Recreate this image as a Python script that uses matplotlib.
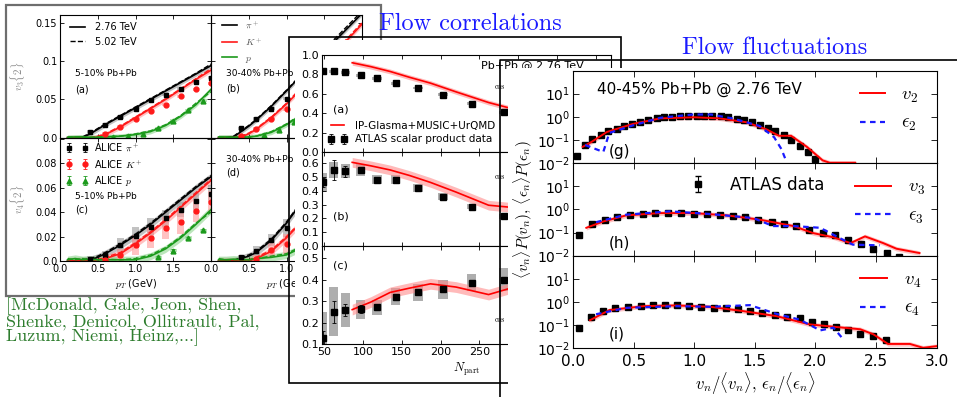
import numpy as np
import matplotlib
matplotlib.use("Agg")
import matplotlib.pyplot as plt
from matplotlib.patches import Rectangle
from matplotlib.lines import Line2D
from matplotlib.ticker import NullLocator

plt.rcParams["mathtext.fontset"] = "cm"
plt.rcParams["font.family"] = "DejaVu Sans"

# ---------------- left block: v3{2}, v4{2} vs pT ----------------
pt_model = [0.1, 0.2, 0.3, 0.4, 0.5, 0.6, 0.8, 1.0, 1.2, 1.4, 1.6, 1.8, 2.0]

v3_510_pi = [0.0, 0.0, 0.0005, 0.005, 0.011, 0.017, 0.028, 0.039, 0.050, 0.061, 0.072, 0.083, 0.094]
v3_510_k = [0.0, 0.0, 0.0, 0.0, 0.001, 0.004, 0.014, 0.026, 0.038, 0.050, 0.063, 0.076, 0.088]
v3_510_p = [0.0005, 0.001, 0.001, 0.0005, 0.0005, 0.001, 0.002, 0.004, 0.008, 0.016, 0.028, 0.043, 0.063]
v3_510_pi_502 = [0.0, 0.0, 0.001, 0.006, 0.012, 0.018, 0.029, 0.040, 0.051, 0.062, 0.073, 0.084, 0.096]
v3_510_k_502 = [0.0, 0.0, 0.0, 0.0, 0.002, 0.005, 0.015, 0.027, 0.039, 0.051, 0.064, 0.077, 0.090]
v3_510_p_502 = [0.001, 0.001, 0.0005, 0.0005, 0.001, 0.001, 0.002, 0.005, 0.009, 0.017, 0.029, 0.045, 0.060]

v3_3040_pi = [0.0, 0.0, 0.001, 0.008, 0.015, 0.023, 0.041, 0.061, 0.082, 0.102, 0.122, 0.142, 0.162]
v3_3040_k = [0.0, 0.0, 0.0, 0.001, 0.005, 0.011, 0.026, 0.044, 0.064, 0.085, 0.106, 0.127, 0.148]
v3_3040_p = [0.001, 0.001, 0.0005, 0.0005, 0.001, 0.002, 0.007, 0.017, 0.030, 0.045, 0.062, 0.080, 0.100]
v3_3040_pi_502 = [0.0, 0.0, 0.002, 0.009, 0.016, 0.024, 0.042, 0.062, 0.083, 0.104, 0.125, 0.145, 0.165]
v3_3040_k_502 = [0.0, 0.0, 0.0, 0.002, 0.006, 0.012, 0.027, 0.045, 0.066, 0.087, 0.108, 0.129, 0.150]
v3_3040_p_502 = [0.001, 0.0005, 0.0005, 0.001, 0.001, 0.002, 0.008, 0.018, 0.031, 0.046, 0.063, 0.082, 0.102]

v4_510_pi = [0.0, 0.0, 0.0005, 0.001, 0.003, 0.006, 0.013, 0.021, 0.030, 0.040, 0.050, 0.060, 0.069]
v4_510_k = [0.0, 0.0, 0.0, 0.0, 0.001, 0.002, 0.006, 0.014, 0.023, 0.033, 0.044, 0.055, 0.066]
v4_510_p = [0.001, 0.002, 0.001, 0.0015, 0.001, 0.001, 0.001, 0.001, 0.004, 0.010, 0.019, 0.030, 0.042]
v4_510_pi_502 = [0.0, 0.0, 0.001, 0.002, 0.004, 0.007, 0.014, 0.022, 0.031, 0.041, 0.051, 0.061, 0.070]
v4_510_k_502 = [0.0, 0.0, 0.0, 0.0, 0.001, 0.003, 0.007, 0.015, 0.024, 0.034, 0.045, 0.056, 0.067]
v4_510_p_502 = [0.002, 0.001, 0.002, 0.001, 0.001, 0.0015, 0.001, 0.002, 0.005, 0.011, 0.020, 0.031, 0.040]

v4_3040_pi = [0.0, 0.0, 0.0, 0.002, 0.004, 0.007, 0.017, 0.031, 0.048, 0.066, 0.085, 0.104, 0.123]
v4_3040_k = [0.0, 0.0, 0.0, 0.0, 0.0, 0.002, 0.008, 0.019, 0.032, 0.047, 0.063, 0.080, 0.098]
v4_3040_p = [0.001, 0.001, 0.0015, 0.001, 0.001, 0.002, 0.003, 0.005, 0.011, 0.020, 0.030, 0.040, 0.050]
v4_3040_pi_502 = [0.0, 0.0, 0.0005, 0.003, 0.005, 0.008, 0.018, 0.032, 0.049, 0.067, 0.086, 0.105, 0.124]
v4_3040_k_502 = [0.0, 0.0, 0.0, 0.0, 0.001, 0.003, 0.009, 0.020, 0.033, 0.048, 0.064, 0.081, 0.099]
v4_3040_p_502 = [0.002, 0.001, 0.001, 0.0015, 0.001, 0.002, 0.004, 0.006, 0.012, 0.021, 0.031, 0.041, 0.051]

# ALICE points
pt_pi_510 = [0.4, 0.6, 0.8, 1.0, 1.2, 1.4, 1.6, 1.8, 2.0]
pt_k_510 = [0.6, 0.8, 1.0, 1.2, 1.4, 1.6, 1.8, 2.0]
pt_p_510 = [0.7, 0.9, 1.1, 1.3, 1.5, 1.7, 1.9]
v3_510_pi_data = [0.0075, 0.017, 0.027, 0.037, 0.049, 0.056, 0.064, 0.073, 0.078]
v3_510_k_data = [0.005, 0.014, 0.025, 0.035, 0.043, 0.054, 0.063, 0.071]
v3_510_p_data = [0.001, 0.002, 0.005, 0.012, 0.022, 0.036, 0.048]
v3_510_pi_sys = [0.002, 0.002, 0.002, 0.002, 0.002, 0.002, 0.002, 0.002, 0.002]
v3_510_k_sys = [0.002, 0.002, 0.002, 0.002, 0.002, 0.002, 0.002, 0.002]
v3_510_p_sys = [0.002, 0.002, 0.002, 0.002, 0.002, 0.002, 0.002]

pt_pi_3040 = [0.4, 0.6, 0.8, 1.0]
pt_k_3040 = [0.4, 0.6, 0.8, 1.0]
pt_p_3040 = [0.5, 0.7, 0.9, 1.1]
v3_3040_pi_data = [0.012, 0.025, 0.038, 0.051]
v3_3040_k_data = [0.002, 0.0115, 0.025, 0.037]
v3_3040_p_data = [0.0, 0.003, 0.010, 0.021]
v3_3040_sys = [0.002, 0.002, 0.002, 0.002]

pt_p_510_v4 = [1.3, 1.5, 1.7, 1.9]
v4_510_pi_data = [0.002, 0.005, 0.013, 0.0205, 0.028, 0.035, 0.042, 0.049, 0.055]
v4_510_pi_sys = [0.002, 0.003, 0.0055, 0.007, 0.007, 0.007, 0.006, 0.007, 0.007]
v4_510_pi_err = [0.001, 0.001, 0.001, 0.001, 0.001, 0.001, 0.001, 0.001, 0.001]
v4_510_k_data = [0.001, 0.005, 0.013, 0.019, 0.027, 0.032, 0.041, 0.048]
v4_510_k_sys = [0.002, 0.005, 0.008, 0.008, 0.009, 0.0095, 0.009, 0.009]
v4_510_k_err = [0.0015, 0.0015, 0.0015, 0.0015, 0.0015, 0.0015, 0.0015, 0.0015]
v4_510_p_data = [0.003, 0.0085, 0.019, 0.025]
v4_510_p_sys = [0.001, 0.001, 0.0015, 0.0015]
v4_510_p_err = [0.001, 0.001, 0.001, 0.001]

pt_pi_3040_v4 = [0.4, 0.6, 0.8, 1.0]
pt_k_3040_v4 = [0.6, 0.8, 1.0]
v4_3040_pi_data = [0.003, 0.008, 0.0175, 0.027]
v4_3040_pi_sys = [0.002, 0.004, 0.005, 0.007]
v4_3040_k_data = [0.002, 0.009, 0.014]
v4_3040_k_sys = [0.003, 0.006, 0.008]

v3_ticks = [0.0, 0.05, 0.1, 0.15]
v3_ticklabels = ["0.0", "0.05", "0.1", "0.15"]
v4_ticks = [0.0, 0.02, 0.04, 0.06, 0.08, 0.10]
v4_ticklabels = ["0.0", "0.02", "0.04", "0.06", "0.08", ""]
pt_ticks = [0.0, 0.5, 1.0, 1.5, 2.0]
pt_ticklabels_left = ["0.0", "0.5", "1.0", "1.5", ""]
pt_ticklabels_right = ["0.0", "0.5", "1.0", "1.5", "2.0"]

# ---------------- middle block: flow correlations vs Npart ----------------
npart = [48, 62, 77, 97, 118, 142, 171, 203, 240, 282]
corr_a = [0.83, 0.83, 0.82, 0.79, 0.76, 0.71, 0.66, 0.59, 0.50, 0.41]
corr_a_sys = [0.015, 0.015, 0.015, 0.015, 0.015, 0.015, 0.015, 0.015, 0.015, 0.015]
corr_a_err = [0.01, 0.01, 0.01, 0.01, 0.01, 0.01, 0.01, 0.01, 0.01, 0.01]
corr_b = [0.46, 0.55, 0.54, 0.55, 0.48, 0.48, 0.42, 0.355, 0.285, 0.215]
corr_b_sys = [0.07, 0.06, 0.05, 0.04, 0.035, 0.035, 0.03, 0.025, 0.02, 0.02]
corr_b_err = [0.03, 0.07, 0.04, 0.02, 0.01, 0.01, 0.01, 0.01, 0.01, 0.01]
corr_c = [0.13, 0.25, 0.258, 0.262, 0.27, 0.32, 0.34, 0.354, 0.385, 0.40]
corr_c_sys = [0.12, 0.115, 0.08, 0.045, 0.035, 0.04, 0.04, 0.045, 0.04, 0.055]
corr_c_err = [0.03, 0.05, 0.03, 0.02, 0.01, 0.01, 0.01, 0.01, 0.01, 0.01]

npart_model = [86, 110, 135, 160, 187, 220, 262, 300]
corr_a_model = [0.92, 0.88, 0.83, 0.77, 0.71, 0.62, 0.51, 0.43]
corr_b_model = [0.605, 0.58, 0.55, 0.51, 0.46, 0.39, 0.295, 0.275]
corr_c_model = [0.26, 0.295, 0.34, 0.36, 0.38, 0.365, 0.33, 0.37]

npart_ticks = [50, 100, 150, 200, 250, 300, 350, 400]
npart_ticklabels = ["50", "100", "150", "200", "250", "300", "350", "400"]
corr_a_ticks = [0.0, 0.2, 0.4, 0.6, 0.8, 1.0]
corr_a_ticklabels = ["0.0", "0.2", "0.4", "0.6", "0.8", "1.0"]
corr_b_ticks = [0.0, 0.1, 0.2, 0.3, 0.4, 0.5, 0.6]
corr_b_ticklabels = ["0.0", "0.1", "0.2", "0.3", "0.4", "0.5", "0.6"]
corr_c_ticks = [0.1, 0.2, 0.3, 0.4, 0.5]
corr_c_ticklabels = ["0.1", "0.2", "0.3", "0.4", "0.5"]

# ---------------- right block: flow fluctuations ----------------
g_x = [0.03, 0.10, 0.16, 0.23, 0.29, 0.36, 0.42, 0.49, 0.55, 0.62, 0.69, 0.75, 0.82, 0.88, 0.95, 1.02,
       1.08, 1.15, 1.22, 1.28, 1.35, 1.41, 1.48, 1.54, 1.61, 1.67, 1.74, 1.80, 1.87, 1.94, 2.00]
g_y = [0.02, 0.063, 0.107, 0.17, 0.25, 0.31, 0.40, 0.51, 0.60, 0.72, 0.85, 0.93, 1.0, 1.07, 1.1, 1.1,
       1.1, 1.1, 1.03, 0.93, 0.84, 0.72, 0.60, 0.46, 0.34, 0.25, 0.16, 0.097, 0.055, 0.030, 0.015]
g_vx = [0.08, 0.15, 0.28, 0.5, 0.72, 1.0, 1.21, 1.43, 1.6, 1.7, 1.8, 1.93, 2.06, 2.12, 2.33]
g_vy = [0.05, 0.08, 0.22, 0.5, 0.85, 0.95, 0.85, 0.58, 0.28, 0.15, 0.15, 0.05, 0.013, 0.0102, 0.0102]
g_ex = [0.10, 0.25, 0.30, 0.5, 0.72, 0.99, 1.14, 1.32, 1.54, 1.66, 1.72, 1.76]
g_ey = [0.06, 0.03, 0.2, 0.43, 0.9, 1.25, 1.25, 0.84, 0.4, 0.13, 0.04, 0.012]

h_x = [0.05, 0.16, 0.26, 0.36, 0.47, 0.58, 0.68, 0.78, 0.89, 1.00, 1.11, 1.21, 1.32, 1.42, 1.53, 1.64,
       1.74, 1.84, 1.95, 2.06, 2.16, 2.27, 2.38, 2.48, 2.59, 2.69]
h_y = [0.076, 0.23, 0.36, 0.47, 0.59, 0.63, 0.69, 0.69, 0.69, 0.65, 0.63, 0.59, 0.53, 0.45, 0.36, 0.28,
       0.23, 0.19, 0.13, 0.10, 0.076, 0.046, 0.033, 0.019, 0.013, 0.009]
h_vx = [0.11, 0.25, 0.44, 0.72, 0.99, 1.27, 1.54, 1.82, 1.98, 2.15, 2.29, 2.41, 2.56, 2.67, 2.86]
h_vy = [0.16, 0.30, 0.55, 0.69, 0.69, 0.55, 0.36, 0.19, 0.095, 0.062, 0.035, 0.068, 0.035, 0.02, 0.013]
h_ex = [0.19, 0.44, 0.8, 1.13, 1.49, 1.65, 1.82, 2.04, 2.2, 2.31, 2.53]
h_ey = [0.28, 0.59, 0.82, 0.63, 0.42, 0.19, 0.19, 0.16, 0.058, 0.03, 0.028]

i_x = [0.05, 0.15, 0.25, 0.35, 0.45, 0.56, 0.66, 0.76, 0.86, 0.96, 1.06, 1.16, 1.26, 1.36, 1.46, 1.56,
       1.67, 1.77, 1.87, 1.97, 2.07, 2.17, 2.27, 2.37, 2.48, 2.58]
i_y = [0.076, 0.22, 0.40, 0.52, 0.59, 0.65, 0.70, 0.72, 0.70, 0.65, 0.61, 0.55, 0.52, 0.47, 0.40, 0.32,
       0.27, 0.22, 0.19, 0.137, 0.106, 0.084, 0.058, 0.042, 0.033, 0.022]
i_vx = [0.14, 0.30, 0.58, 0.85, 1.13, 1.40, 1.68, 1.95, 2.23, 2.37, 2.48, 2.6, 2.78, 2.89, 3.0]
i_vy = [0.16, 0.44, 0.65, 0.70, 0.61, 0.40, 0.24, 0.106, 0.076, 0.065, 0.039, 0.015, 0.015, 0.0102, 0.012]
i_ex = [0.19, 0.44, 0.85, 1.13, 1.46, 1.68, 1.87, 2.04, 2.15, 2.23]
i_ey = [0.29, 0.55, 0.65, 0.61, 0.72, 0.30, 0.17, 0.058, 0.076, 0.024]

ratio_ticks = [0.0, 0.5, 1.0, 1.5, 2.0, 2.5, 3.0]
ratio_ticklabels = ["0.0", "0.5", "1.0", "1.5", "2.0", "2.5", "3.0"]
prob_ticks = [0.01, 0.1, 1.0, 10.0]

W, H = 957.0, 397.0


def box(x0, y0, x1, y1):
    # pixel box measured from the top-left corner -> figure fraction rect
    return [x0 / W, 1 - y1 / H, (x1 - x0) / W, (y1 - y0) / H]


def classic(ax, size, length=3):
    ax.tick_params(direction="in", top=True, right=True, labelsize=size,
                   length=length, width=0.6, pad=2)
    for s in ax.spines.values():
        s.set_linewidth(0.8)


fig = plt.figure(figsize=(9.57, 3.97), dpi=100)

BLK, RED, GRN = "#000000", "#ff1a1a", "#1c9a1c"
BLK_B, RED_B, GRN_B = "#9a9a9a", "#ff9a9a", "#8fd68f"

# ================= left block =================
fig.add_artist(Rectangle((6 / W, 1 - 296 / H), 375 / W, 291 / H, transform=fig.transFigure,
                         fill=False, edgecolor="#6e6e6e", lw=1.6, zorder=1))

ax_a = fig.add_axes(box(60, 15, 211, 137.7))
ax_b = fig.add_axes(box(211, 15, 362, 137.7))
ax_c = fig.add_axes(box(60, 137.7, 211, 261))
ax_d = fig.add_axes(box(211, 137.7, 362, 261))


def model(ax, m276, m502, color, band):
    ax.fill_between(pt_model, np.array(m276) - 0.003, np.array(m276) + 0.003,
                    color=band, alpha=0.6, lw=0)
    ax.plot(pt_model, m276, color=color, lw=1.2)
    ax.plot(pt_model, m502, color=color, lw=1.0, ls="--")


def points(ax, x, v, sys, err, marker, color, band, label=None):
    ax.bar(x, 2 * np.array(sys), bottom=np.array(v) - np.array(sys), width=0.09,
           color=band, alpha=0.6, lw=0)
    return ax.errorbar(x, v, yerr=err, fmt=marker, color=color, ms=3.5, capsize=1.5,
                       elinewidth=0.6, capthick=0.6, label=label)


for ax in (ax_a, ax_b, ax_c, ax_d):
    ax.set_zorder(2)
    ax.set_facecolor("none")
    classic(ax, 7)
    ax.set_xlim(0, 2.0)
    ax.set_xticks(pt_ticks)

model(ax_a, v3_510_pi, v3_510_pi_502, BLK, BLK_B)
model(ax_a, v3_510_k, v3_510_k_502, RED, RED_B)
model(ax_a, v3_510_p, v3_510_p_502, GRN, GRN_B)
points(ax_a, pt_pi_510, v3_510_pi_data, v3_510_pi_sys, None, "s", BLK, BLK_B)
points(ax_a, pt_k_510, v3_510_k_data, v3_510_k_sys, None, "o", RED, RED_B)
points(ax_a, pt_p_510, v3_510_p_data, v3_510_p_sys, None, "^", GRN, GRN_B)

model(ax_b, v3_3040_pi, v3_3040_pi_502, BLK, BLK_B)
model(ax_b, v3_3040_k, v3_3040_k_502, RED, RED_B)
model(ax_b, v3_3040_p, v3_3040_p_502, GRN, GRN_B)
points(ax_b, pt_pi_3040, v3_3040_pi_data, v3_3040_sys, None, "s", BLK, BLK_B)
points(ax_b, pt_k_3040, v3_3040_k_data, v3_3040_sys, None, "o", RED, RED_B)
points(ax_b, pt_p_3040, v3_3040_p_data, v3_3040_sys, None, "^", GRN, GRN_B)

model(ax_c, v4_510_pi, v4_510_pi_502, BLK, BLK_B)
model(ax_c, v4_510_k, v4_510_k_502, RED, RED_B)
model(ax_c, v4_510_p, v4_510_p_502, GRN, GRN_B)
h_pi = points(ax_c, pt_pi_510, v4_510_pi_data, v4_510_pi_sys, v4_510_pi_err, "s", BLK, BLK_B,
              r"ALICE $\pi^+$")
h_k = points(ax_c, pt_k_510, v4_510_k_data, v4_510_k_sys, v4_510_k_err, "o", RED, RED_B,
             r"ALICE $K^+$")
h_p = points(ax_c, pt_p_510_v4, v4_510_p_data, v4_510_p_sys, v4_510_p_err, "^", GRN, GRN_B,
             r"ALICE $p$")

model(ax_d, v4_3040_pi, v4_3040_pi_502, BLK, BLK_B)
model(ax_d, v4_3040_k, v4_3040_k_502, RED, RED_B)
model(ax_d, v4_3040_p, v4_3040_p_502, GRN, GRN_B)
points(ax_d, pt_pi_3040_v4, v4_3040_pi_data, v4_3040_pi_sys, None, "s", BLK, BLK_B)
points(ax_d, pt_k_3040_v4, v4_3040_k_data, v4_3040_k_sys, None, "o", RED, RED_B)

for ax in (ax_a, ax_b):
    ax.set_ylim(0, 0.16)
    ax.set_yticks(v3_ticks)
    ax.set_xticklabels([])
for ax in (ax_c, ax_d):
    ax.set_ylim(0, 0.101)
    ax.set_yticks(v4_ticks)
ax_a.set_yticklabels(v3_ticklabels)
ax_c.set_yticklabels(v4_ticklabels)
ax_b.set_yticklabels([])
ax_d.set_yticklabels([])
ax_c.set_xticklabels(pt_ticklabels_left)
ax_d.set_xticklabels(pt_ticklabels_right)
ax_a.set_ylabel(r"$v_3\{2\}$", fontsize=8, color="#8a8a8a", labelpad=6)
ax_c.set_ylabel(r"$v_4\{2\}$", fontsize=8, color="#8a8a8a", labelpad=6)
ax_c.set_xlabel(r"$p_T$ (GeV)", fontsize=7, labelpad=2)
ax_d.set_xlabel(r"$p_T$ (GeV)", fontsize=7, labelpad=2)

ax_a.legend(handles=[Line2D([], [], color=BLK, lw=1.2), Line2D([], [], color=BLK, lw=1.0, ls="--")],
            labels=["2.76 TeV", "5.02 TeV"], loc="center left", bbox_to_anchor=(0.066, 0.84),
            frameon=False, fontsize=7, borderpad=0, borderaxespad=0, handlelength=1.55,
            handletextpad=1.0, labelspacing=0.45)
ax_b.legend(handles=[Line2D([], [], color=c, lw=1.2) for c in (BLK, RED, GRN)],
            labels=[r"$\pi^+$", r"$K^+$", r"$p$"], loc="center left", bbox_to_anchor=(0.073, 0.78),
            frameon=False, fontsize=7, borderpad=0, borderaxespad=0, handlelength=1.55,
            handletextpad=0.8, labelspacing=0.5, labelcolor="#555555")
ax_c.legend(handles=[h_pi, h_k, h_p], loc="center left", bbox_to_anchor=(0.04, 0.78),
            frameon=False, fontsize=7, borderpad=0, borderaxespad=0, handlelength=2.2,
            handletextpad=0.7, labelspacing=0.45, numpoints=2)

ax_a.text(0.1, 0.527, "5-10% Pb+Pb", transform=ax_a.transAxes, fontsize=6.5, va="center")
ax_a.text(0.1, 0.39, "(a)", transform=ax_a.transAxes, fontsize=7, va="center")
ax_c.text(0.1, 0.52, "5-10% Pb+Pb", transform=ax_c.transAxes, fontsize=6.5, va="center")
ax_c.text(0.1, 0.414, "(c)", transform=ax_c.transAxes, fontsize=7, va="center")
ax_b.text(0.1, 0.527, "30-40% Pb+Pb", transform=ax_b.transAxes, fontsize=6.5, va="center")
ax_b.text(0.1, 0.397, "(b)", transform=ax_b.transAxes, fontsize=7, va="center")
ax_d.text(0.1, 0.82, "30-40% Pb+Pb", transform=ax_d.transAxes, fontsize=6.5, va="center")
ax_d.text(0.1, 0.714, "(d)", transform=ax_d.transAxes, fontsize=7, va="center")

refs = ["[McDonald, Gale, Jeon, Shen,", "Shenke, Denicol, Ollitrault, Pal,", "Luzum, Niemi, Heinz,...]"]
for k, line in enumerate(refs):
    fig.text(6 / W, 1 - (306.5 + 15.4 * k) / H, line, fontfamily="cmr10", fontsize=13,
             color="#2e7d2e", va="center", zorder=7)

# ================= middle block =================
fig.add_artist(Rectangle((295 / W, 1 - 383 / H), 326 / W, 343 / H, transform=fig.transFigure,
                         facecolor="white", edgecolor="none", zorder=3))
fig.add_artist(Rectangle((289 / W, 1 - 383 / H), 332 / W, 346 / H, transform=fig.transFigure,
                         fill=False, edgecolor="black", lw=1.2, zorder=3.2))

ax_ma = fig.add_axes(box(322, 55, 611, 152))
ax_mb = fig.add_axes(box(322, 152, 611, 246))
ax_mc = fig.add_axes(box(322, 246, 611, 344))

panels = [(ax_ma, corr_a, corr_a_sys, corr_a_err, corr_a_model, 0.025, (0, 1.0), corr_a_ticks, corr_a_ticklabels),
          (ax_mb, corr_b, corr_b_sys, corr_b_err, corr_b_model, 0.035, (0, 0.68), corr_b_ticks, corr_b_ticklabels),
          (ax_mc, corr_c, corr_c_sys, corr_c_err, corr_c_model, 0.025, (0.1, 0.556), corr_c_ticks, corr_c_ticklabels)]
handles_mid = []
for ax, v, sys, err, mdl, bw, ylim, yt, ytl in panels:
    ax.set_zorder(4)
    classic(ax, 8)
    ax.bar(npart, 2 * np.array(sys), bottom=np.array(v) - np.array(sys), width=12,
           color="#8c8c8c", alpha=0.7, lw=0)
    ax.fill_between(npart_model, np.array(mdl) - bw, np.array(mdl) + bw, color="#ff8c8c",
                    alpha=0.6, lw=0)
    ln, = ax.plot(npart_model, mdl, color="#ff0000", lw=1.2)
    eb = ax.errorbar(npart, v, yerr=err, fmt="s", color="black", ms=4, capsize=1.5,
                     elinewidth=0.6, capthick=0.6)
    handles_mid.append((ln, eb))
    ax.set_xlim(47, 420)
    ax.set_ylim(*ylim)
    ax.set_xticks(npart_ticks)
    ax.set_yticks(yt)
    ax.set_yticklabels(ytl)
ax_ma.set_xticklabels([])
ax_mb.set_xticklabels([])
ax_mc.set_xticklabels(npart_ticklabels)
ax_mc.set_xlabel(r"$N_{\rm part}$", fontsize=9, labelpad=3)

ax_ma.legend(handles=list(handles_mid[0]), labels=["IP-Glasma+MUSIC+UrQMD", "ATLAS scalar product data"],
             loc="center left", bbox_to_anchor=(0.02, 0.2), frameon=False, fontsize=7.5,
             borderpad=0, borderaxespad=0, handlelength=1.9, handletextpad=0.7,
             labelspacing=0.35, numpoints=2)
ax_ma.text(0.038, 0.433, "(a)", transform=ax_ma.transAxes, fontsize=8, va="center")
ax_mb.text(0.038, 0.31, "(b)", transform=ax_mb.transAxes, fontsize=8, va="center")
ax_mc.text(0.038, 0.806, "(c)", transform=ax_mc.transAxes, fontsize=8, va="center")
ax_ma.text(0.55, 0.9, "Pb+Pb @ 2.76 TeV", transform=ax_ma.transAxes, fontsize=8, va="center")
for y in (87, 177, 320):
    fig.text(495 / W, 1 - y / H, "cos", fontfamily="cmr10", fontsize=5.5, va="center", zorder=4.5)

# ================= right block =================
fig.add_artist(Rectangle((508 / W, 0), 449 / W, 1 - 68 / H, transform=fig.transFigure,
                         facecolor="white", edgecolor="none", zorder=5))
fig.add_artist(Line2D([500 / W, 500 / W, 1.0], [0, 1 - 60 / H, 1 - 60 / H], transform=fig.transFigure,
                      color="black", lw=1.2, zorder=5.2))

ax_g = fig.add_axes(box(573, 70.5, 936.5, 163))
ax_h = fig.add_axes(box(573, 163, 936.5, 255.7))
ax_i = fig.add_axes(box(573, 255.7, 936.5, 348))

rows = [(ax_g, g_x, g_y, g_vx, g_vy, g_ex, g_ey, "$v_2$", r"$\epsilon_2$", "(g)", 0.12, 1.3),
        (ax_h, h_x, h_y, h_vx, h_vy, h_ex, h_ey, "$v_3$", r"$\epsilon_3$", "(h)", 0.134, 1.9),
        (ax_i, i_x, i_y, i_vx, i_vy, i_ex, i_ey, "$v_4$", r"$\epsilon_4$", "(i)", 0.15, 1.45)]
for ax, dx, dy, vx, vy, ex, ey, lv, le, tag, ty, hl in rows:
    ax.set_zorder(6)
    classic(ax, 10, length=4)
    ax.set_yscale("log")
    ax.fill_between(vx, np.array(vy) * 0.8, np.array(vy) * 1.25, color="#ff9c9c", alpha=0.6, lw=0)
    ax.plot(dx, dy, "s", color="black", ms=5)
    lv_line, = ax.plot(vx, vy, color="#ff0000", lw=1.4)
    le_line, = ax.plot(ex, ey, color="#1a1aff", lw=1.6, ls=(0, (2.5, 2)))
    ax.set_xlim(0, 3.0)
    ax.set_ylim(0.01, 100)
    ax.set_yticks(prob_ticks)
    ax.yaxis.set_minor_locator(NullLocator())
    ax.set_xticks(ratio_ticks)
    ax.tick_params(axis="x", labelsize=11, pad=4)
    ax.text(0.099, ty, tag, transform=ax.transAxes, fontsize=11, va="center")
    ax.legend(handles=[lv_line, le_line], labels=[lv, le], loc="center left",
              bbox_to_anchor=(0.79 if hl < 1.5 else 0.776, 0.585), frameon=False, fontsize=13.5,
              borderpad=0, borderaxespad=0, handlelength=hl, handletextpad=0.9, labelspacing=0.45)
ax_g.set_xticklabels([])
ax_h.set_xticklabels([])
ax_i.set_xticklabels(ratio_ticklabels)
ax_i.set_xlabel(r"$v_n/\langle v_n\rangle,\, \epsilon_n/\langle \epsilon_n\rangle$", fontsize=12, labelpad=2)
ax_g.text(0.066, 0.8, "40-45% Pb+Pb @ 2.76 TeV", transform=ax_g.transAxes, fontsize=11, va="center")

atlas = ax_h.errorbar([np.nan], [np.nan], yerr=[np.nan], fmt="s", color="black", ms=5,
                      capsize=2, elinewidth=0.8)
leg_h = ax_h.get_legend()
ax_h.add_artist(leg_h)
ax_h.legend(handles=[atlas], labels=["ATLAS data"], loc="center left", bbox_to_anchor=(0.322, 0.763),
            frameon=False, fontsize=12, borderpad=0, borderaxespad=0, handlelength=1.0,
            handletextpad=1.4, numpoints=1)

fig.text(523 / W, 1 - 210 / H, r"$\langle v_n\rangle P(v_n),\, \langle \epsilon_n\rangle P(\epsilon_n)$",
         rotation=90, fontsize=11, ha="center", va="center", zorder=6.5)

# ================= slide titles =================
fig.text(379 / W, 1 - 24 / H, "Flow correlations", fontfamily="cmr10", fontsize=17.5,
         color="#1a1aff", va="center", zorder=7)
fig.text(682 / W, 1 - 48 / H, "Flow fluctuations", fontfamily="cmr10", fontsize=17.5,
         color="#1a1aff", va="center", zorder=7)

fig.savefig("out.png", dpi=100)
